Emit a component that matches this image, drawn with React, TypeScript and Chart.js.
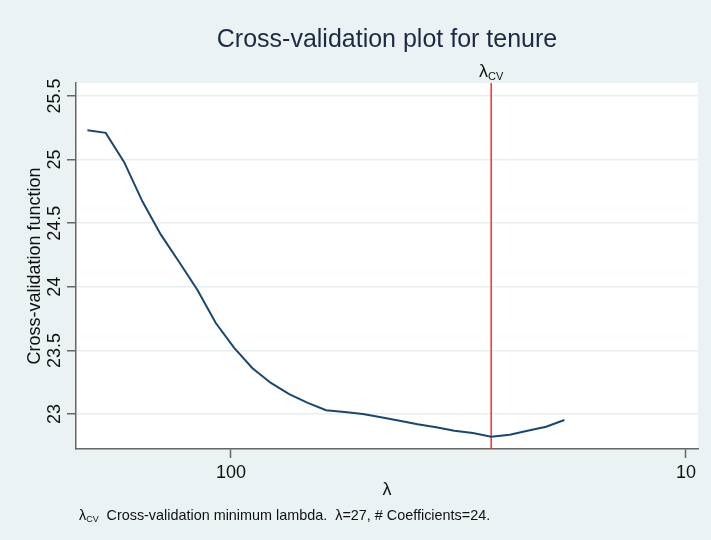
import React, { useEffect, useRef } from "react";
import { Chart, registerables } from "chart.js";

Chart.register(...registerables);

// ---- data ----
const lambdas = [
  206.8, 188.5, 171.7, 156.5, 142.6, 130.0, 118.5, 108.0, 98.4, 89.7, 81.7, 74.5, 67.8, 61.8,
  56.3, 51.3, 46.8, 42.6, 38.9, 35.4, 32.3, 29.4, 26.8, 24.4, 22.3, 20.3, 18.5,
];
const cvValues = [
  25.23, 25.21, 24.98, 24.67, 24.41, 24.195, 23.975, 23.715, 23.52, 23.36, 23.244, 23.157, 23.087,
  23.03, 23.016, 23.0, 22.974, 22.947, 22.92, 22.896, 22.869, 22.85, 22.822, 22.837, 22.869, 22.9,
  22.953,
];
const lambdaCV = 26.8;
const xTicks = [100, 10];
const yTicks = [23, 23.5, 24, 24.5, 25, 25.5];
const xRange = [9.41, 219.1];
const yRange = [22.725, 25.602];

const titleText = "Cross-validation plot for tenure";
const yTitle = "Cross-validation function";
const xTitle = "λ";
const noteText = "Cross-validation minimum lambda.  λ=27, # Coefficients=24.";

const FONT = "'Liberation Sans', Arial, Helvetica, sans-serif";
const BG = "#eaf2f3";

export default function App() {
  const ref = useRef<HTMLCanvasElement>(null);

  useEffect(() => {
    document.body.style.margin = "0";
    const canvas = ref.current;
    if (!canvas) return;

    const decor = {
      id: "decor",
      beforeDraw(chart: any) {
        const { ctx, chartArea: a, width, height } = chart;
        ctx.save();
        ctx.fillStyle = BG;
        ctx.fillRect(0, 0, width, height);
        ctx.fillStyle = "#ffffff";
        ctx.fillRect(a.left, a.top, a.right - a.left, a.bottom - a.top);
        ctx.restore();
      },
      afterDraw(chart: any) {
        const { ctx, chartArea: a, scales } = chart;
        const cx = (a.left + a.right) / 2;
        ctx.save();
        // title
        ctx.fillStyle = "#1c2a44";
        ctx.font = `25px ${FONT}`;
        ctx.textAlign = "center";
        ctx.textBaseline = "middle";
        ctx.fillText(titleText, cx, 40);
        // x title
        ctx.fillStyle = "#111111";
        ctx.font = `18px ${FONT}`;
        ctx.fillText(xTitle, cx, 490);
        // y title
        ctx.save();
        ctx.translate(35, (a.top + a.bottom) / 2);
        ctx.rotate(-Math.PI / 2);
        ctx.fillText(yTitle, 0, 0);
        ctx.restore();
        // xline label
        const rx = scales.x.getPixelForValue(lambdaCV);
        ctx.font = `18px ${FONT}`;
        const w1 = ctx.measureText("λ").width;
        ctx.font = `11px ${FONT}`;
        const w2 = ctx.measureText("CV").width;
        const sx = rx - (w1 + w2) / 2;
        ctx.textAlign = "left";
        ctx.textBaseline = "alphabetic";
        ctx.font = `18px ${FONT}`;
        ctx.fillText("λ", sx, 77);
        ctx.font = `11px ${FONT}`;
        ctx.fillText("CV", sx + w1, 80);
        // note
        ctx.font = `14.4px ${FONT}`;
        ctx.fillText("λ", 79, 520);
        const nw = ctx.measureText("λ").width;
        ctx.font = `9px ${FONT}`;
        ctx.fillText("CV", 79 + nw, 522);
        ctx.font = `14.4px ${FONT}`;
        ctx.fillText(noteText, 106.5, 520);
        ctx.restore();
      },
    };

    const points = lambdas.map((l, i) => ({ x: l, y: cvValues[i] }));

    const chart = new Chart(canvas, {
      type: "scatter",
      data: {
        datasets: [
          {
            data: points,
            showLine: true,
            borderColor: "#1a476f",
            borderWidth: 2,
            pointRadius: 0,
            tension: 0,
          },
          {
            data: [
              { x: lambdaCV, y: yRange[0] },
              { x: lambdaCV, y: yRange[1] },
            ],
            showLine: true,
            borderColor: "#ff2b2b",
            borderWidth: 1.5,
            pointRadius: 0,
          },
        ],
      },
      options: {
        animation: false,
        responsive: false,
        events: [],
        layout: { padding: { top: 83, right: 13, left: 0, bottom: 0 } },
        plugins: { legend: { display: false }, tooltip: { enabled: false }, title: { display: false } },
        scales: {
          x: {
            type: "logarithmic",
            reverse: true,
            min: xRange[0],
            max: xRange[1],
            afterBuildTicks: (s: any) => {
              s.ticks = xTicks.map((v) => ({ value: v }));
            },
            afterFit: (s: any) => {
              s.height = 91;
            },
            ticks: {
              callback: (v: any) => String(v),
              font: { family: FONT, size: 18 },
              color: "#111111",
              padding: 4,
              autoSkip: false,
              maxRotation: 0,
              minRotation: 0,
            },
            grid: {
              drawOnChartArea: false,
              drawTicks: true,
              tickLength: 9,
              tickColor: "#666666",
              tickWidth: 1.5,
            },
            border: { display: true, color: "#666666", width: 1.5 },
          },
          y: {
            type: "linear",
            min: yRange[0],
            max: yRange[1],
            afterBuildTicks: (s: any) => {
              s.ticks = yTicks.map((v) => ({ value: v }));
            },
            afterFit: (s: any) => {
              s.width = 76;
            },
            ticks: {
              callback: (v: any) => String(v),
              font: { family: FONT, size: 18 },
              color: "#111111",
              padding: -6,
              crossAlign: "center",
              minRotation: 90,
              maxRotation: 90,
              autoSkip: false,
            },
            grid: {
              color: "#e8eff1",
              lineWidth: 1.5,
              drawTicks: true,
              tickLength: 9,
              tickColor: "#666666",
              tickWidth: 1.5,
            },
            border: { display: true, color: "#666666", width: 1.5 },
          },
        },
      },
      plugins: [decor],
    });

    return () => chart.destroy();
  }, []);

  return (
    <div style={{ width: 711, height: 540 }}>
      <canvas ref={ref} width={711} height={540} style={{ display: "block", width: 711, height: 540 }} />
    </div>
  );
}
